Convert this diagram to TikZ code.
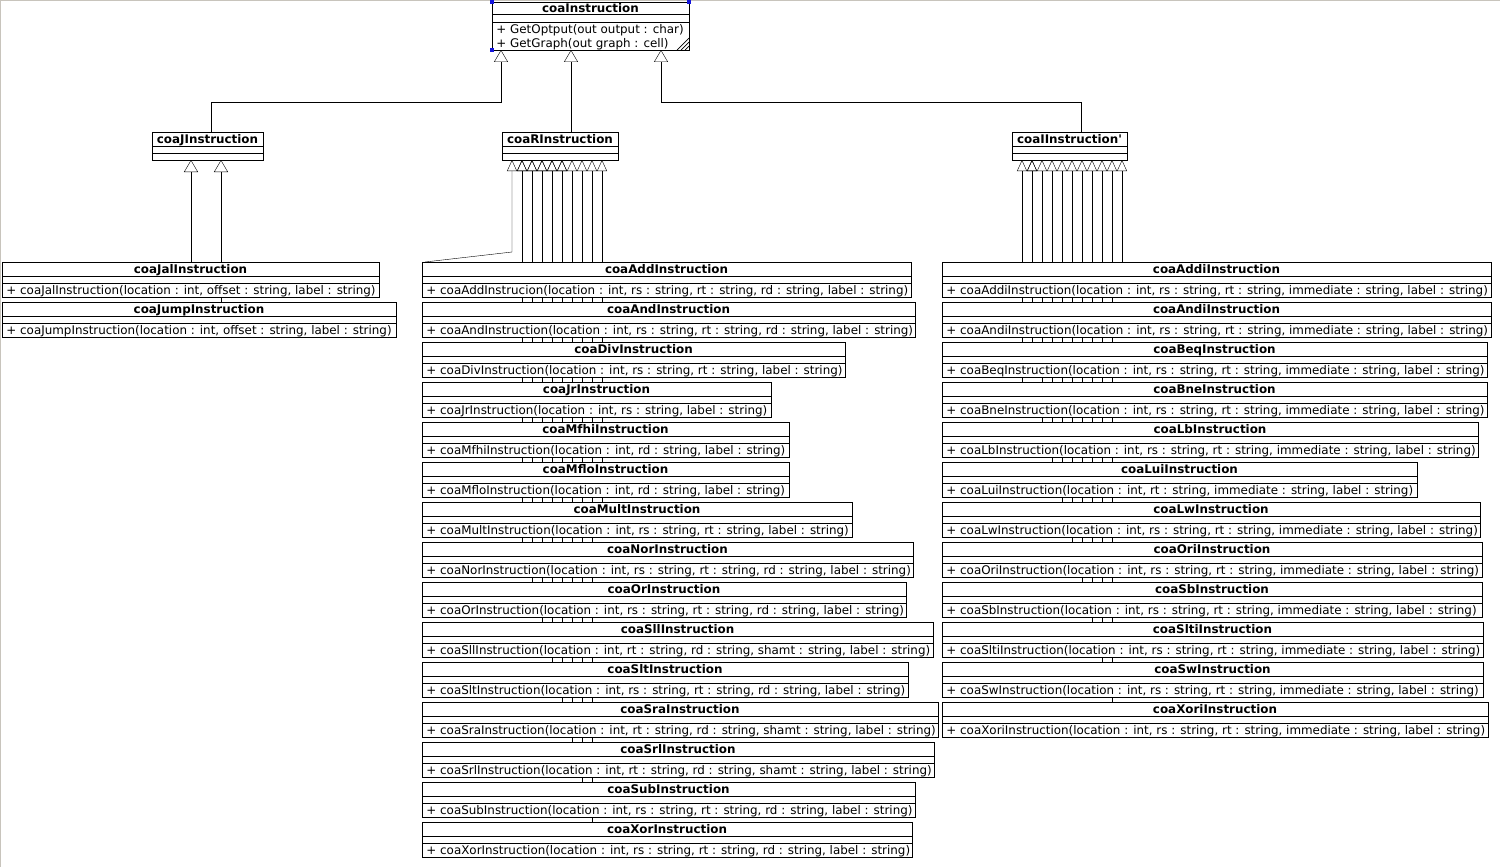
\documentclass[tikz,border=0pt]{standalone}
\usepackage{fontspec}
\setmainfont{DejaVu Sans}
\usepackage{tikz}
\usetikzlibrary{arrows.meta,calc}
\definecolor{cadre}{RGB}{200,196,188}
\definecolor{poignee}{RGB}{20,20,220}
\pgfdeclarelayer{back}
\pgfsetlayers{back,main}
\newcommand{\umlfont}{\fontsize{11.9}{13}\selectfont}
% classe : nom, gauche, haut, droite, titre, operation
\newcommand{\umlclass}[6]{%
  \pgfmathsetmacro{\bw}{#4-#2}
  \node[classe,minimum width=\bw pt,minimum height=35pt] (#1) at (#2,#3) {};
  \draw (#1.north west) ++(0,14.5) -- ++(\bw,0) ++(0,7) -- ++(-\bw,0);
  \node[titre] at ($(#1.north)+(0,11.7)$) {#5};
  \node[oper] at ($(#1.north west)+(4,32)$) {+ #6};}
% classe sans operation
\newcommand{\umlhead}[4]{%
  \pgfmathsetmacro{\bw}{#3-#2}
  \node[classe,minimum width=\bw pt,minimum height=28pt] (#1) at (#2,132) {};
  \draw (#1.north west) ++(0,14.5) -- ++(\bw,0) ++(0,7) -- ++(-\bw,0);
  \node[titre] at ($(#1.north)+(0,11.7)$) {#4};}

\begin{document}
\begin{tikzpicture}[x=1pt,y=-1pt,line width=0.9pt,font=\umlfont,
    classe/.style={draw,fill=white,anchor=north west,inner sep=0pt,outer sep=0pt},
    titre/.style={anchor=base,inner sep=0pt,font=\umlfont\bfseries},
    oper/.style={anchor=base west,inner sep=0pt},
    gen/.style={-{Triangle[open,length=12pt,width=14pt]}},
    genR/.style={-{Triangle[open,length=11pt,width=10pt]}}]
  \useasboundingbox (0,0) rectangle (1500,867);
  \draw[cadre,line width=1.2pt] (0.6,867) -- (0.6,0.6) -- (1500,0.6);
  % classe de base
  \node[classe,minimum width=197pt,minimum height=48pt] (Inst) at (492,2) {};
  \draw (Inst.north west) ++(0,12.8) -- ++(197,0) ++(0,7.7) -- ++(-197,0);
  \node[titre] at ($(Inst.north)+(0,10.5)$) {coaInstruction};
  \node[oper] at ($(Inst.north west)+(4,32)$) {+ GetOptput(out output : char)};
  \node[oper] at ($(Inst.north west)+(4,45.5)$) {+ GetGraph(out graph : cell)};
  \foreach \d in {4,8,12}
    \draw[line width=0.7pt] ($(Inst.south east)+(-\d,0)$) -- ($(Inst.south east)+(0,-\d)$);
  \foreach \c in {north west,north east,south west}
    \fill[poignee] (Inst.\c) ++(-1.7,-1.7) rectangle ++(3.4,3.4);
  % classes intermediaires
  \umlhead{JInst}{152}{263}{coaJInstruction}
  \umlhead{RInst}{502}{618}{coaRInstruction}
  \umlhead{IInst}{1012}{1127}{coaIInstruction\textquotesingle}
  % type J
  \umlclass{Jal}{2}{262}{379}{coaJalInstruction}{coaJalInstruction(location : int, offset : string, label : string)}
  \umlclass{Jump}{2}{302}{396}{coaJumpInstruction}{coaJumpInstruction(location : int, offset : string, label : string)}
  % type R
  \umlclass{Add}{422}{262}{911}{coaAddInstruction}{coaAddInstrucion(location : int, rs : string, rt : string, rd : string, label : string)}
  \foreach \nm/\rx/\args [count=\k] in {
      And/915/{rs : string, rt : string, rd : string},
      Div/845/{rs : string, rt : string},
      Jr/771/{rs : string},
      Mfhi/789/{rd : string},
      Mflo/789/{rd : string},
      Mult/852/{rs : string, rt : string},
      Nor/913/{rs : string, rt : string, rd : string},
      Or/906/{rs : string, rt : string, rd : string},
      Sll/933/{rt : string, rd : string, shamt : string},
      Slt/908/{rs : string, rt : string, rd : string},
      Sra/938/{rt : string, rd : string, shamt : string},
      Srl/934/{rt : string, rd : string, shamt : string},
      Sub/915/{rs : string, rt : string, rd : string},
      Xor/912/{rs : string, rt : string, rd : string}}
    {\umlclass{\nm}{422}{262+40*\k}{\rx}{coa\nm Instruction}{coa\nm Instruction(location : int, \args, label : string)}}
  % type I
  \foreach \nm/\rx/\args [count=\k from 0] in {
      Addi/1491/{rs : string, rt : string},
      Andi/1491/{rs : string, rt : string},
      Beq/1487/{rs : string, rt : string},
      Bne/1487/{rs : string, rt : string},
      Lb/1478/{rs : string, rt : string},
      Lui/1417/{rt : string},
      Lw/1480/{rs : string, rt : string},
      Ori/1482/{rs : string, rt : string},
      Sb/1482/{rs : string, rt : string},
      Slti/1483/{rs : string, rt : string},
      Sw/1483/{rs : string, rt : string},
      Xori/1488/{rs : string, rt : string}}
    {\umlclass{\nm}{942}{262+40*\k}{\rx}{coa\nm Instruction}{coa\nm Instruction(location : int, \args, immediate : string, label : string)}}
  % heritages
  \begin{pgfonlayer}{back}
    \draw[gen] (211,0 |- JInst.north) |- (501,102) -- (501,0 |- Inst.south);
    \draw[gen] (571,0 |- RInst.north) -- (571,0 |- Inst.south);
    \draw[gen] (1081,0 |- IInst.north) |- (661,102) -- (661,0 |- Inst.south);
    \foreach \nm/\x in {Jal/191,Jump/221}
      \draw[gen] (\x,0 |- \nm.north) -- (\x,0 |- JInst.south);
    \draw[genR] ([xshift=3pt]Add.north west) -- (512,252) -- (512,0 |- RInst.south);
    \foreach \nm/\x in {And/522,Div/532,Jr/542,Mfhi/552,Mflo/562,Mult/602,Nor/522,Or/532,
        Sll/542,Slt/552,Sra/562,Srl/572,Sub/582,Xor/592}
      \draw[genR] (\x,0 |- \nm.north) -- (\x,0 |- RInst.south);
    \foreach \nm/\x in {Addi/1122,Andi/1032,Beq/1032,Bne/1022,Lb/1042,Lui/1052,Lw/1062,
        Ori/1072,Sb/1082,Slti/1092,Sw/1102,Xori/1112}
      \draw[genR] (\x,0 |- \nm.north) -- (\x,0 |- IInst.south);
  \end{pgfonlayer}
\end{tikzpicture}
\end{document}
